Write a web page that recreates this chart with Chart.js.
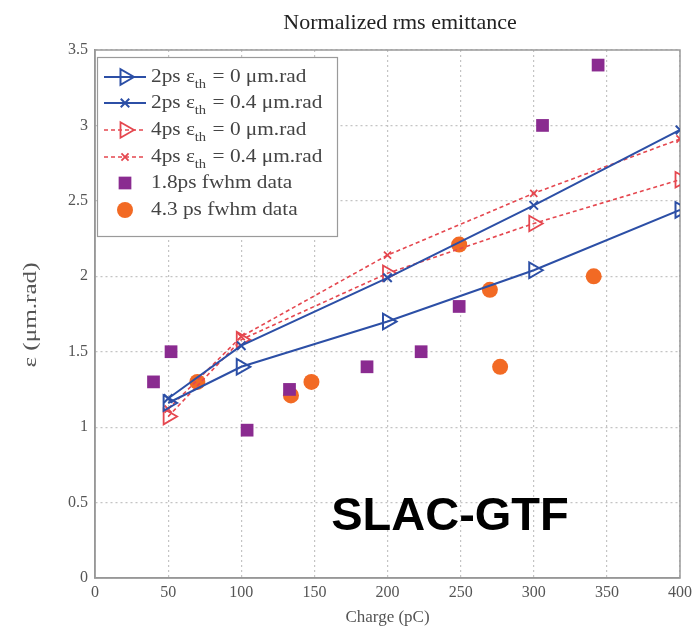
<!DOCTYPE html>
<html><head><meta charset="utf-8">
<script src="https://cdn.jsdelivr.net/npm/chart.js@4"></script>
<style>html,body{margin:0;padding:0;background:#fff}#w{width:700px;height:632px;position:relative}</style>
</head><body><div id="w"><canvas id="c"></canvas></div>
<script>
const simX = [50, 100, 200, 300, 400];
const s2ps0 = [1.16, 1.40, 1.70, 2.04, 2.44];
const s2ps04 = [1.19, 1.54, 1.99, 2.47, 2.97];
const s4ps0 = [1.07, 1.58, 2.02, 2.35, 2.64];
const s4ps04 = [1.12, 1.60, 2.14, 2.55, 2.91];
const d18X = [40, 52, 104, 133, 186, 223, 249, 306, 344];
const d18Y = [1.30, 1.50, 0.98, 1.25, 1.40, 1.50, 1.80, 3.00, 3.40];
const d43X = [70, 134, 148, 249, 270, 277, 341];
const d43Y = [1.30, 1.21, 1.30, 2.21, 1.91, 1.40, 2.00];
const xTicks = [0, 50, 100, 150, 200, 250, 300, 350, 400];
const yTicks = [0, 0.5, 1, 1.5, 2, 2.5, 3, 3.5];
const legendParts = [
  ["2ps ε", "th", " = 0 μm.rad"],
  ["2ps ε", "th", " = 0.4 μm.rad"],
  ["4ps ε", "th", " = 0 μm.rad"],
  ["4ps ε", "th", " = 0.4 μm.rad"],
  ["1.8ps fwhm data", "", ""],
  ["4.3 ps fwhm data", "", ""]
];
const titleText = "Normalized rms emittance";
const xTitle = "Charge (pC)";
const yTitle = "ε (μm.rad)";
const stamp = "SLAC-GTF";

const BLUE = "#2c4fa6", RED = "#e5474f", PURPLE = "#8a2b90", ORANGE = "#f26a24";
const pts = (xs, ys) => xs.map((x, i) => ({x, y: ys[i]}));
const SERIF = "'Liberation Serif','DejaVu Serif',serif";

const datasets = [
  {label: legendParts[0].join(""), data: pts(simX, s2ps0), showLine: true, borderColor: BLUE, borderWidth: 2,
   pointStyle: 'triangle', pointRotation: 90, pointRadius: 9, pointBorderWidth: 2, pointBackgroundColor: 'rgba(255,255,255,0)', pointBorderColor: BLUE},
  {label: legendParts[1].join(""), data: pts(simX, s2ps04), showLine: true, borderColor: BLUE, borderWidth: 2,
   pointStyle: 'crossRot', pointRadius: 6, pointBorderWidth: 2, pointBackgroundColor: BLUE, pointBorderColor: BLUE},
  {label: legendParts[2].join(""), data: pts(simX, s4ps0), showLine: true, borderColor: RED, borderWidth: 1.6, borderDash: [4, 3],
   pointStyle: 'triangle', pointRotation: 90, pointRadius: 9, pointBorderWidth: 1.8, pointBackgroundColor: 'rgba(255,255,255,0)', pointBorderColor: RED},
  {label: legendParts[3].join(""), data: pts(simX, s4ps04), showLine: true, borderColor: RED, borderWidth: 1.6, borderDash: [4, 3],
   pointStyle: 'crossRot', pointRadius: 5, pointBorderWidth: 1.8, pointBackgroundColor: RED, pointBorderColor: RED},
  {label: legendParts[4].join(""), data: pts(d18X, d18Y), showLine: false,
   pointStyle: 'rect', pointRadius: 9, pointBorderWidth: 0, pointBackgroundColor: PURPLE, pointBorderColor: PURPLE},
  {label: legendParts[5].join(""), data: pts(d43X, d43Y), showLine: false,
   pointStyle: 'circle', pointRadius: 8, pointBorderWidth: 0, pointBackgroundColor: ORANGE, pointBorderColor: ORANGE}
];

const overlay = {
  id: 'overlay',
  afterDraw(chart) {
    const ctx = chart.ctx;
    ctx.save();
    // title
    ctx.fillStyle = "#222";
    ctx.font = "22px " + SERIF;
    ctx.textAlign = "center"; ctx.textBaseline = "middle";
    ctx.fillText(titleText, 400, 23);
    // y title
    ctx.save();
    ctx.font = "19px " + SERIF;
    const tw = ctx.measureText(yTitle).width;
    ctx.translate(31, 315); ctx.rotate(-Math.PI / 2); ctx.scale(105 / tw, 1);
    ctx.fillStyle = "#555";
    ctx.fillText(yTitle, 0, 0);
    ctx.restore();
    // stamp
    ctx.font = "bold 47px 'Liberation Sans', Arial, sans-serif";
    ctx.fillStyle = "#000"; ctx.textAlign = "center";
    ctx.fillText(stamp, 450, 517);
    // legend
    const lx = 97, ly = 57, lw = 240, lh = 179;
    ctx.fillStyle = "#fff"; ctx.fillRect(lx, ly, lw, lh);
    ctx.strokeStyle = "#9a9a9a"; ctx.lineWidth = 1.2; ctx.strokeRect(lx + .5, ly + .5, lw, lh);
    const rows = [77, 103, 130, 157, 183, 210];
    chart.data.datasets.forEach((ds, i) => {
      const y = rows[i];
      if (ds.showLine) {
        ctx.strokeStyle = ds.borderColor; ctx.lineWidth = ds.borderWidth;
        ctx.setLineDash(ds.borderDash || []);
        ctx.beginPath(); ctx.moveTo(104, y); ctx.lineTo(146, y); ctx.stroke();
        ctx.setLineDash([]);
      }
      ctx.fillStyle = ds.pointBackgroundColor;
      ctx.strokeStyle = ds.pointBorderColor;
      ctx.lineWidth = ds.pointBorderWidth || 0;
      Chart.helpers.drawPoint(ctx, {
        pointStyle: ds.pointStyle, rotation: ds.pointRotation || 0,
        radius: ds.pointRadius, borderWidth: ds.pointBorderWidth
      }, 125, y);
      const p = legendParts[i];
      ctx.save();
      ctx.translate(151, y); ctx.scale(1.12, 1);
      ctx.fillStyle = "#444"; ctx.textAlign = "left"; ctx.textBaseline = "middle";
      ctx.font = "19px " + SERIF;
      let x = 0;
      ctx.fillText(p[0], x, 0); x += ctx.measureText(p[0]).width;
      if (p[1]) {
        ctx.font = "13px " + SERIF;
        ctx.fillText(p[1], x, 8); x += ctx.measureText(p[1]).width + 1;
        ctx.font = "19px " + SERIF;
        ctx.fillText(p[2], x, 0);
      }
      ctx.restore();
    });
    ctx.restore();
  }
};

const chart = new Chart(document.getElementById('c'), {
  type: 'scatter',
  data: {datasets},
  options: {
    responsive: true, maintainAspectRatio: false, animation: false,
    layout: {padding: {top: 50, right: 20, left: 0, bottom: 0}},
    plugins: {legend: {display: false}, tooltip: {enabled: false}, title: {display: false}},
    scales: {
      x: {
        type: 'linear', min: 0, max: 400,
        afterBuildTicks: s => { s.ticks = xTicks.map(v => ({value: v})); },
        afterFit: s => { s.height = 54; },
        grid: {color: "#c4c4c4", lineWidth: 1.2, drawTicks: false},
        border: {display: true, color: "#8f8f8f", width: 1.5, dash: [2, 3]},
        ticks: {color: "#555", font: {family: SERIF, size: 16}, padding: 5},
        title: {display: true, text: xTitle, color: "#555", font: {family: SERIF, size: 17}, padding: {top: 0}}
      },
      y: {
        type: 'linear', min: 0, max: 3.5,
        afterBuildTicks: s => { s.ticks = yTicks.map(v => ({value: v})); },
        afterFit: s => { s.width = 95; },
        grid: {color: "#c4c4c4", lineWidth: 1.2, drawTicks: false},
        border: {display: true, color: "#8f8f8f", width: 1.5, dash: [2, 3]},
        ticks: {color: "#555", font: {family: SERIF, size: 16}, padding: 7, callback: v => String(v)},
        title: {display: false}
      }
    }
  },
  plugins: [{
    id: 'frame',
    beforeDatasetsDraw(chart) {
      const ctx = chart.ctx, a = chart.chartArea;
      ctx.save();
      ctx.strokeStyle = "#9a9a9a"; ctx.lineWidth = 1.5;
      ctx.strokeRect(a.left, a.top, a.right - a.left, a.bottom - a.top);
      ctx.restore();
    }
  }, overlay]
});
</script></body></html>
